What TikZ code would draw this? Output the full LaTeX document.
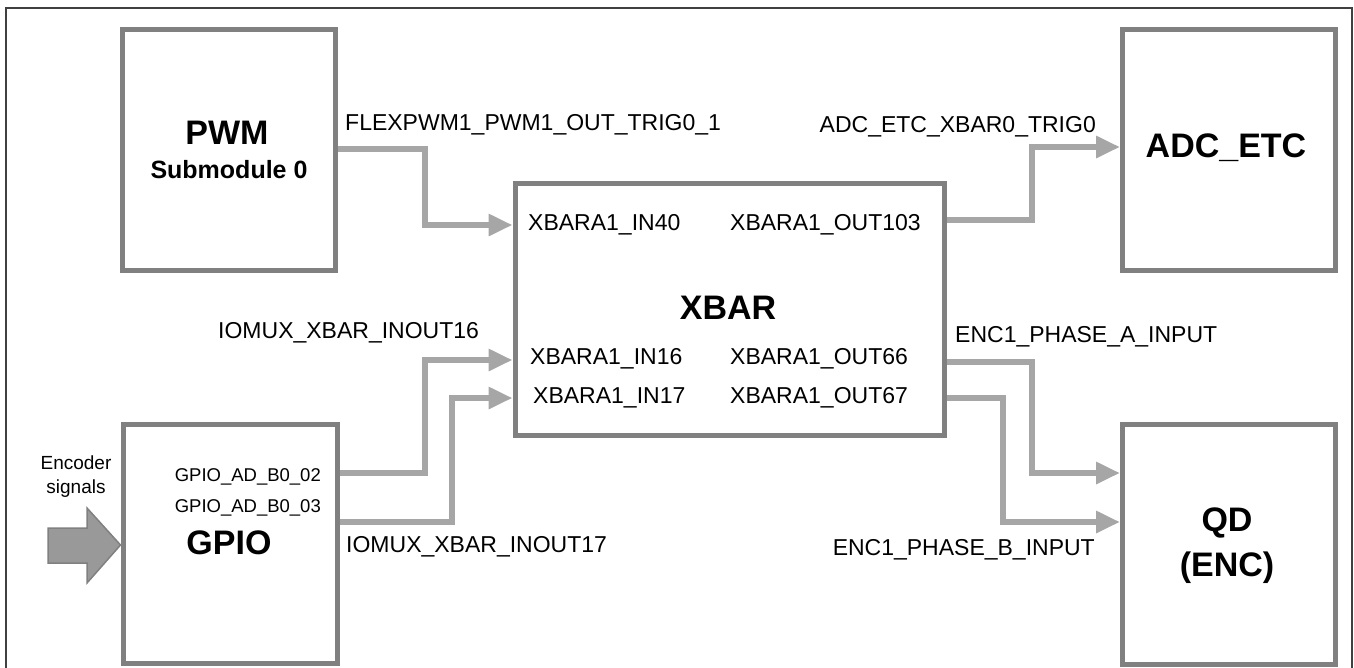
\documentclass[tikz,border=0pt]{standalone}
\usepackage{fontspec}
\setmainfont{Liberation Sans}
\usetikzlibrary{arrows.meta,calc}
\definecolor{boxgray}{RGB}{128,128,128}
\definecolor{siggray}{RGB}{166,166,166}
\definecolor{framegray}{RGB}{64,64,64}
\definecolor{bigarrow}{RGB}{153,153,153}
\begin{document}
\begin{tikzpicture}[x=1pt,y=-1pt,
  blk/.style={draw=boxgray,line width=5pt,minimum width=#1,inner sep=0pt,outer sep=2.5pt,fill=white},
  sig/.style={draw=siggray,line width=6pt,-{Triangle[length=24pt,width=21pt]}},
  sigx/.style={draw=siggray,line width=6pt},
  lbl/.style={inner sep=0pt,font=\fontsize{23}{27}\selectfont},
  sml/.style={inner sep=0pt,font=\fontsize{18.5}{22}\selectfont},
  big/.style={inner sep=0pt,font=\fontsize{34}{40}\selectfont\bfseries},
]
\useasboundingbox (0,0) rectangle (1354,667);
\clip (0,0) rectangle (1354,667);
\draw[framegray,line width=2.5pt] (6,8) rectangle (1352,720);

% boxes
\node[blk=213.5pt,minimum height=240.5pt] (pwm) at (228.75,149.75) {};
\node[blk=213pt,minimum height=240.5pt] (adc) at (1229,149.75) {};
\node[blk=429pt,minimum height=252pt] (xbar) at (729.5,309) {};
\node[blk=214.5pt,minimum height=239pt] (gpio) at (230.25,544) {};
\node[blk=213pt,minimum height=239.5pt] (qd) at (1229,544.25) {};

% box titles
\node[big] (tpwm) at (227,133) {PWM};
\node[inner sep=0pt,font=\fontsize{25}{30}\selectfont\bfseries] (tsub) at (229,170) {Submodule 0};
\node[big] (tadc) at (1226,148) {ADC\_ETC};
\node[big] (txbar) at (728,308) {XBAR};
\node[big] (tgpio) at (229,543) {GPIO};
\node[big] (tqd) at (1227,523) {QD};
\node[big] (tenc) at (1227,568) {(ENC)};

% connectors
\draw[sig] (pwm.east |- 0,149) -- (425,149) -- (425,225) -- (xbar.west |- 0,225);
\draw[sig] (xbar.east |- 0,220) -- (1032,220) -- (1032,147) -- (adc.west |- 0,147);
\draw[sig] (xbar.east |- 0,362) -- (1032,362) -- (1032,473) -- (qd.west |- 0,473);
\draw[sig] (xbar.east |- 0,398) -- (1003,398) -- (1003,522) -- (qd.west |- 0,522);
\draw[sig] (gpio.east |- 0,473) -- (425,473) -- (425,360) -- (xbar.west |- 0,360);
\draw[sig] (gpio.east |- 0,522) -- (452,522) -- (452,398) -- (xbar.west |- 0,398);

% encoder block arrow
\coordinate (enctip) at (gpio.west |- 0,545);
\draw[draw=boxgray,fill=bigarrow,line width=1.5pt,line join=miter]
  (48,528) -- (87,528) -- (87,508) -- (enctip) -- (87,583) -- (87,563) -- (48,563) -- cycle;

% labels
\node[lbl,anchor=west] (l1) at (345,125) {FLEXPWM1\_PWM1\_OUT\_TRIG0\_1};
\node[lbl,anchor=east] (l2) at (1096,127) {ADC\_ETC\_XBAR0\_TRIG0};
\node[lbl,anchor=west] (l3) at (528,225) {XBARA1\_IN40};
\node[lbl,anchor=west] (l4) at (730,225) {XBARA1\_OUT103};
\node[lbl,anchor=west] (l5) at (530,359) {XBARA1\_IN16};
\node[lbl,anchor=west] (l6) at (533,398) {XBARA1\_IN17};
\node[lbl,anchor=west] (l7) at (730,359) {XBARA1\_OUT66};
\node[lbl,anchor=west] (l8) at (730,398) {XBARA1\_OUT67};
\node[lbl,anchor=west] (l9) at (218,333) {IOMUX\_XBAR\_INOUT16};
\node[lbl,anchor=west] (l10) at (346,547) {IOMUX\_XBAR\_INOUT17};
\node[lbl,anchor=west] (l11) at (955,337) {ENC1\_PHASE\_A\_INPUT};
\node[lbl,anchor=east] (l12) at (1095,550) {ENC1\_PHASE\_B\_INPUT};
\node[sml,anchor=east] (l13) at (321,477) {GPIO\_AD\_B0\_02};
\node[sml,anchor=east] (l14) at (321,508) {GPIO\_AD\_B0\_03};
\node[inner sep=0pt,font=\fontsize{19}{24}\selectfont,align=center] (l15) at (76,477) {Encoder\\signals};
\end{tikzpicture}
\end{document}
